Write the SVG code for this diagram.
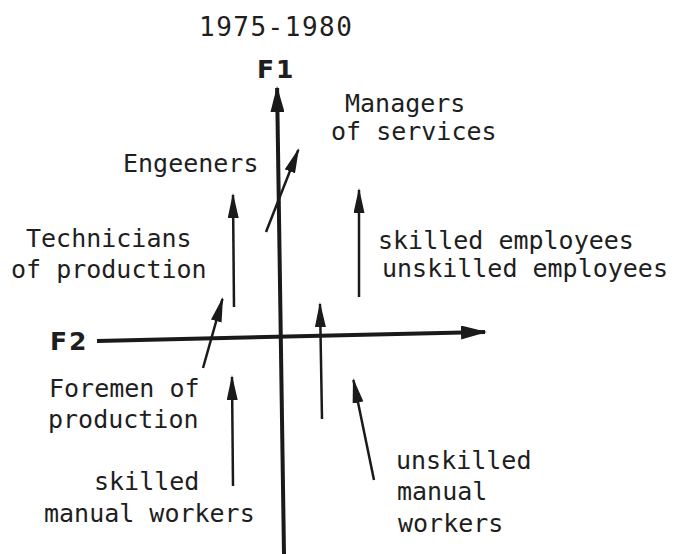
<svg xmlns="http://www.w3.org/2000/svg" width="685" height="554" viewBox="0 0 685 554">
<style>
.t{font-family:"DejaVu Sans Mono","Liberation Mono",monospace;font-size:25px;fill:#1e1e1e}
.title{font-family:"DejaVu Sans Mono","Liberation Mono",monospace;font-size:26px;letter-spacing:1.5px;fill:#1e1e1e}
.ax{font-family:"DejaVu Sans","Liberation Sans",sans-serif;font-weight:bold;font-size:25px;letter-spacing:2px;fill:#1e1e1e}
.axis{stroke:#1a1a1a;stroke-width:4;fill:none;marker-end:url(#bigHead)}
.arr{stroke:#1a1a1a;stroke-width:2.5;fill:none;marker-end:url(#smallHead)}
</style>
<defs>
<marker id="bigHead" markerUnits="userSpaceOnUse" markerWidth="26" markerHeight="14" refX="24" refY="7" orient="auto" viewBox="0 0 26 14">
<path d="M0,0 L26,7 L0,14 z" fill="#1a1a1a"/>
</marker>
<marker id="smallHead" markerUnits="userSpaceOnUse" markerWidth="25" markerHeight="11" refX="23" refY="5.5" orient="auto" viewBox="0 0 25 11">
<path d="M0,0 L25,5.5 L0,11 z" fill="#1a1a1a"/>
</marker>
</defs>
<g id="title"><text class="title" x="199" y="36">1975-1980</text></g>
<g id="connectors">
<line class="axis" x1="284" y1="554" x2="277.1" y2="88"/>
<line class="axis" x1="97" y1="341" x2="485" y2="332"/>
<line class="arr" x1="234" y1="307" x2="233" y2="195"/>
<line class="arr" x1="266" y1="232" x2="298.3" y2="149.9"/>
<line class="arr" x1="359" y1="297" x2="359" y2="190"/>
<line class="arr" x1="203" y1="368" x2="222.5" y2="298.9"/>
<line class="arr" x1="322" y1="419" x2="320" y2="304"/>
<line class="arr" x1="233" y1="486" x2="232" y2="377"/>
<line class="arr" x1="374" y1="480" x2="353.4" y2="380"/>
</g>
<g id="F1"><text class="ax" x="257" y="78">F1</text></g>
<g id="F2"><text class="ax" x="50" y="350">F2</text></g>
<g id="managers"><text class="t" x="345" y="112">Managers</text><text class="t" x="331" y="140">of services</text></g>
<g id="engineers"><text class="t" x="123" y="172">Engeeners</text></g>
<g id="technicians"><text class="t" x="26" y="247">Technicians</text><text class="t" x="11" y="278">of production</text></g>
<g id="employees"><text class="t" x="378" y="249">skilled employees</text><text class="t" x="382" y="277">unskilled employees</text></g>
<g id="foremen"><text class="t" x="49" y="397">Foremen of</text><text class="t" x="48" y="428">production</text></g>
<g id="skilled-workers"><text class="t" x="94" y="490">skilled</text><text class="t" x="44" y="522">manual workers</text></g>
<g id="unskilled-workers"><text class="t" x="396" y="469">unskilled</text><text class="t" x="397" y="500">manual</text><text class="t" x="398" y="532">workers</text></g>
</svg>
